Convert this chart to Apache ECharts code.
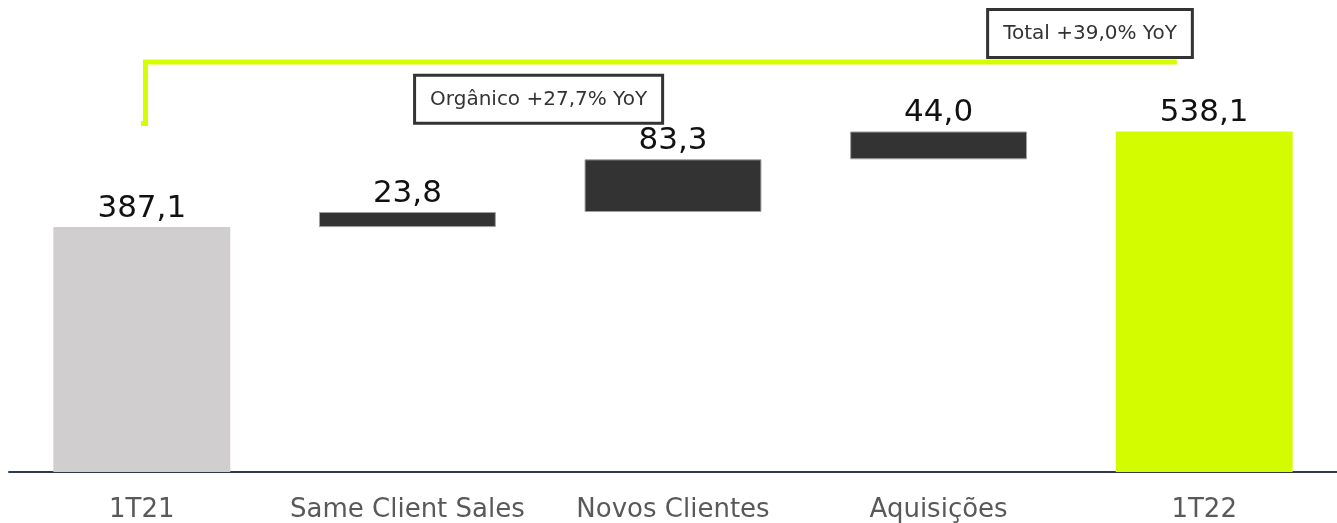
<!DOCTYPE html>
<html>
<head>
<meta charset="utf-8">
<script src="https://cdn.jsdelivr.net/npm/echarts@6/dist/echarts.min.js"></script>
<style>
html, body { margin: 0; padding: 0; background: #fff; }
#chart { width: 1337px; height: 523px; }
</style>
</head>
<body>
<div id="chart"></div>
<script>
const categories = ['1T21', 'Same Client Sales', 'Novos Clientes', 'Aquisições', '1T22'];
const values = [387.1, 23.8, 83.3, 44.0, 538.1];
const isTotal = [true, false, false, false, true];
const boxTexts = ['Orgânico +27,7% YoY', 'Total +39,0% YoY'];

const FONT = 'DejaVu Sans, Verdana, sans-serif';
const colors = { start: '#d0cece', step: '#333333', end: '#d4fc00', line: '#d4ff00' };

// invisible base under each floating step bar
const bases = [];
let running = 0;
values.forEach((v, i) => {
    if (isTotal[i]) {
        bases.push(0);
        running = v;
    } else {
        bases.push(running);
        running += v;
    }
});

function fmt(v) {
    return v.toFixed(1).replace('.', ',');
}

const barData = values.map((v, i) => {
    let c = colors.step;
    if (i === 0) c = colors.start;
    if (i === values.length - 1) c = colors.end;
    return {
        value: v,
        itemStyle: {
            color: c,
            borderColor: isTotal[i] ? c : '#a0a0a0',
            borderWidth: isTotal[i] ? 0 : 1
        }
    };
});

const boxLabel = {
    show: true,
    position: 'inside',
    formatter: (p) => p.data.name,
    fontFamily: FONT,
    fontSize: 20,
    color: '#333',
    backgroundColor: '#fff',
    borderColor: '#333',
    borderWidth: 3,
    lineHeight: 24,
    padding: [11, 14, 10, 14]
};

const option = {
    animation: false,
    grid: { left: 9, right: 0, top: 0, bottom: 51 },
    xAxis: [
        {
            type: 'category',
            data: categories,
            axisTick: { show: false },
            axisLine: { lineStyle: { color: '#2d3a50', width: 2 } },
            axisLabel: {
                interval: 0,
                fontFamily: FONT,
                fontSize: 26,
                color: '#595959',
                margin: 25
            }
        },
        { type: 'value', min: 0, max: 5, show: false }
    ],
    yAxis: {
        type: 'value',
        min: 0,
        max: 746,
        show: false,
        splitLine: { show: false }
    },
    series: [
        {
            type: 'bar',
            stack: 'wf',
            barWidth: '66.6%',
            itemStyle: { color: 'transparent' },
            silent: true,
            data: bases
        },
        {
            type: 'bar',
            stack: 'wf',
            barWidth: '66.6%',
            label: {
                show: true,
                position: 'top',
                distance: 3,
                fontFamily: FONT,
                fontSize: 31,
                color: '#111',
                formatter: (p) => fmt(p.value)
            },
            data: barData
        },
        {
            // bracket from 1T21 towards 1T22
            type: 'line',
            xAxisIndex: 1,
            symbol: 'none',
            lineStyle: { color: colors.line, width: 5, join: 'miter', cap: 'butt' },
            data: [[0.497, 551], [0.514, 551], [0.514, 648], [4.397, 648]],
            z: 3
        },
        {
            type: 'scatter',
            xAxisIndex: 1,
            symbolSize: 0,
            itemStyle: { opacity: 1 },
            label: boxLabel,
            data: [
                { name: boxTexts[0], value: [1.994, 589] },
                { name: boxTexts[1], value: [4.07, 693] }
            ],
            z: 5
        }
    ]
};

const chart = echarts.init(document.getElementById('chart'));
chart.setOption(option);
</script>
</body>
</html>
